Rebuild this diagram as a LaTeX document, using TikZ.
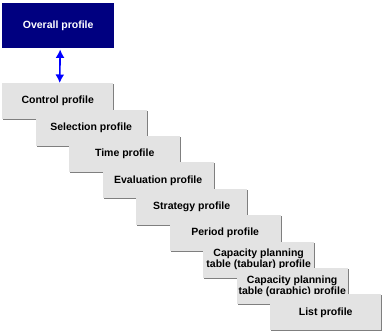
\documentclass[tikz,border=0pt]{standalone}
\usepackage{fontspec}
\setmainfont{Liberation Sans}
\usetikzlibrary{arrows.meta,positioning,shadows}
\definecolor{navy}{HTML}{000080}
\definecolor{profbg}{HTML}{E3E3E3}
\definecolor{shadegray}{HTML}{7F7F7F}
\definecolor{arrblue}{HTML}{0000FF}

\begin{document}
\begin{tikzpicture}[
  x=1pt, y=1pt,
  font=\fontsize{10.5}{10.8}\selectfont\bfseries,
  topbox/.style={fill=navy, text=white, anchor=north west, align=center,
                 minimum width=112pt, minimum height=44.5pt, inner sep=0pt},
  prof/.style={fill=profbg, anchor=north west, align=center,
               minimum width=111pt, minimum height=36pt, inner sep=0pt,
               drop shadow={shadow xshift=1pt, shadow yshift=-1pt, fill=shadegray, opacity=1}},
  arr/.style={{Latex[length=8.5pt,width=9pt]}-{Latex[length=8.5pt,width=9pt]}, arrblue, line width=1.6pt},
  node distance=26.4pt and 33.5pt,
]
\useasboundingbox (0,0) rectangle (386,-334);
\node[topbox] (overall) at (2,-3) {Overall profile};
\node[prof] (ctrl) at (2,-83) {Control profile};
\node[prof, below right=of ctrl.north west] (sel) {Selection profile};
\node[prof, below right=of sel.north west] (time) {Time profile};
\node[prof, below right=of time.north west] (eval) {Evaluation profile};
\node[prof, below right=of eval.north west] (strat) {Strategy profile};
\node[prof, below right=of strat.north west] (period) {Period profile};
\node[prof, below right=of period.north west] (captab) {Capacity planning\\table (tabular) profile};
\node[prof, below right=of captab.north west] (capgra) {Capacity planning\\table (graphic) profile};
\node[prof, below right=of capgra.north west] (list) {List profile};

\draw[arr, shorten <=1.5pt] ([xshift=2pt]overall.south) -- ([xshift=2pt]ctrl.north);
\end{tikzpicture}
\end{document}
